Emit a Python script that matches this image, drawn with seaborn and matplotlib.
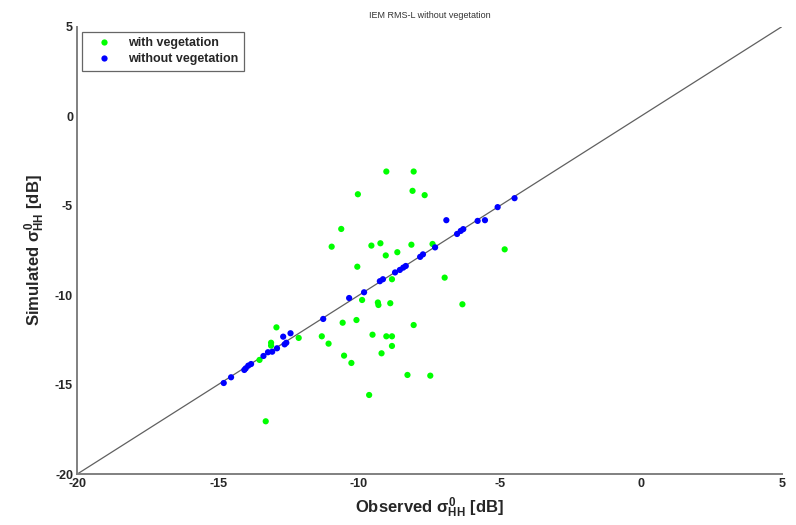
import matplotlib
matplotlib.use("Agg")
import matplotlib.pyplot as plt
import numpy as np
import pandas as pd
import seaborn as sns
from matplotlib.lines import Line2D

# observed / simulated backscatter (dB)
veg_obs = [
    -9.03, -8.06, -10.04, -8.10, -7.67, -10.63, -10.97, -9.56, -9.24, -9.05,
    -8.64, -8.14, -7.39, -10.06, -4.83, -6.96, -8.83, -9.89, -9.33, -9.31,
    -8.89, -6.33, -10.58, -10.09, -8.06, -12.14, -11.32, -11.08, -9.52, -9.03,
    -8.83, -8.83, -9.20, -10.53, -10.27, -8.28, -7.47, -9.64, -12.93, -13.12,
    -13.12, -13.53, -13.31,
]
veg_sim = [
    -3.09, -3.09, -4.36, -4.17, -4.41, -6.30, -7.29, -7.23, -7.10, -7.78,
    -7.60, -7.18, -7.14, -8.41, -7.44, -9.02, -9.11, -10.27, -10.41, -10.55,
    -10.45, -10.51, -11.54, -11.39, -11.67, -12.39, -12.30, -12.71, -12.21, -12.30,
    -12.30, -12.84, -13.25, -13.38, -13.79, -14.46, -14.50, -15.58, -11.80, -12.66,
    -12.82, -13.62, -17.05,
]
noveg_obs = [
    -14.80, -14.54, -14.07, -14.02, -13.93, -13.83, -13.39, -13.23, -13.08, -12.91,
    -12.64, -12.58, -12.69, -12.43, -11.27, -10.35, -9.82, -9.26, -9.15, -8.72,
    -8.55, -8.43, -8.34, -7.83, -7.73, -7.30, -6.90, -6.52, -6.39, -6.30,
    -5.79, -5.53, -5.08, -4.48,
]
noveg_sim = [
    -14.91, -14.59, -14.18, -14.09, -13.94, -13.85, -13.40, -13.19, -13.16, -12.97,
    -12.75, -12.66, -12.32, -12.13, -11.33, -10.16, -9.84, -9.22, -9.11, -8.73,
    -8.59, -8.46, -8.37, -7.86, -7.72, -7.33, -5.81, -6.58, -6.41, -6.31,
    -5.85, -5.81, -5.08, -4.58,
]
groups = ["with vegetation", "without vegetation"]
colors = {"with vegetation": "#00ff00", "without vegetation": "#0000ff"}
ticks = [-20, -15, -10, -5, 0, 5]

df = pd.concat(
    [
        pd.DataFrame({"obs": veg_obs, "sim": veg_sim, "group": groups[0]}),
        pd.DataFrame({"obs": noveg_obs, "sim": noveg_sim, "group": groups[1]}),
    ],
    ignore_index=True,
)

sns.set_style("white")
plt.rcParams.update(
    {
        "font.family": ["Liberation Sans", "DejaVu Sans"],
        "mathtext.fontset": "custom",
        "mathtext.rm": "Liberation Sans:bold",
        "mathtext.it": "Liberation Sans:bold",
        "mathtext.bf": "Liberation Sans:bold",
        "axes.unicode_minus": False,
    }
)

fig = plt.figure(figsize=(7.96, 5.25), dpi=100)
ax = fig.add_axes([0.097, 0.097, 0.885, 0.852])

# 1:1 reference line across the full axis range
ax.plot(ticks[::len(ticks) - 1], ticks[::len(ticks) - 1], color="#606060", lw=0.9, zorder=1)
sns.scatterplot(
    data=df, x="obs", y="sim", hue="group", hue_order=groups, palette=colors,
    s=20, linewidth=0, legend=False, ax=ax, zorder=2,
)

ax.set_xlim(-20, 5)
ax.set_ylim(-20, 5)
ax.set_xticks(ticks)
ax.set_yticks(ticks)
ax.tick_params(direction="in", length=4, width=1, color="#808080",
               labelsize=9, pad=3)
for lab in ax.get_xticklabels() + ax.get_yticklabels():
    lab.set_fontweight("bold")
for side in ["top", "right"]:
    ax.spines[side].set_visible(False)
for side in ["left", "bottom"]:
    ax.spines[side].set_color("#808080")
    ax.spines[side].set_linewidth(1.4)

ax.set_xlabel(r"Observed $\sigma^{0}_{HH}$ [dB]", fontsize=12, fontweight="bold", labelpad=4)
ax.set_ylabel(r"Simulated $\sigma^{0}_{HH}$ [dB]", fontsize=12, fontweight="bold", labelpad=6)
ax.set_title("IEM RMS-L without vegetation", fontsize=6.5, color="#333333", pad=6.5)

handles = [
    Line2D([0], [0], marker="o", color="w", markerfacecolor=colors[g],
           markeredgewidth=0, markersize=4.5, label=g)
    for g in groups
]
leg = ax.legend(handles=handles, loc="upper left", bbox_to_anchor=(0.007, 0.989),
                borderaxespad=0, frameon=True, fancybox=False,
                prop={"weight": "bold", "size": 9},
                handlelength=2.6, handletextpad=0.6, borderpad=0.45, labelspacing=0.3)
leg.get_frame().set_edgecolor("#404040")
leg.get_frame().set_linewidth(0.9)

fig.savefig("out.png", dpi=100)
